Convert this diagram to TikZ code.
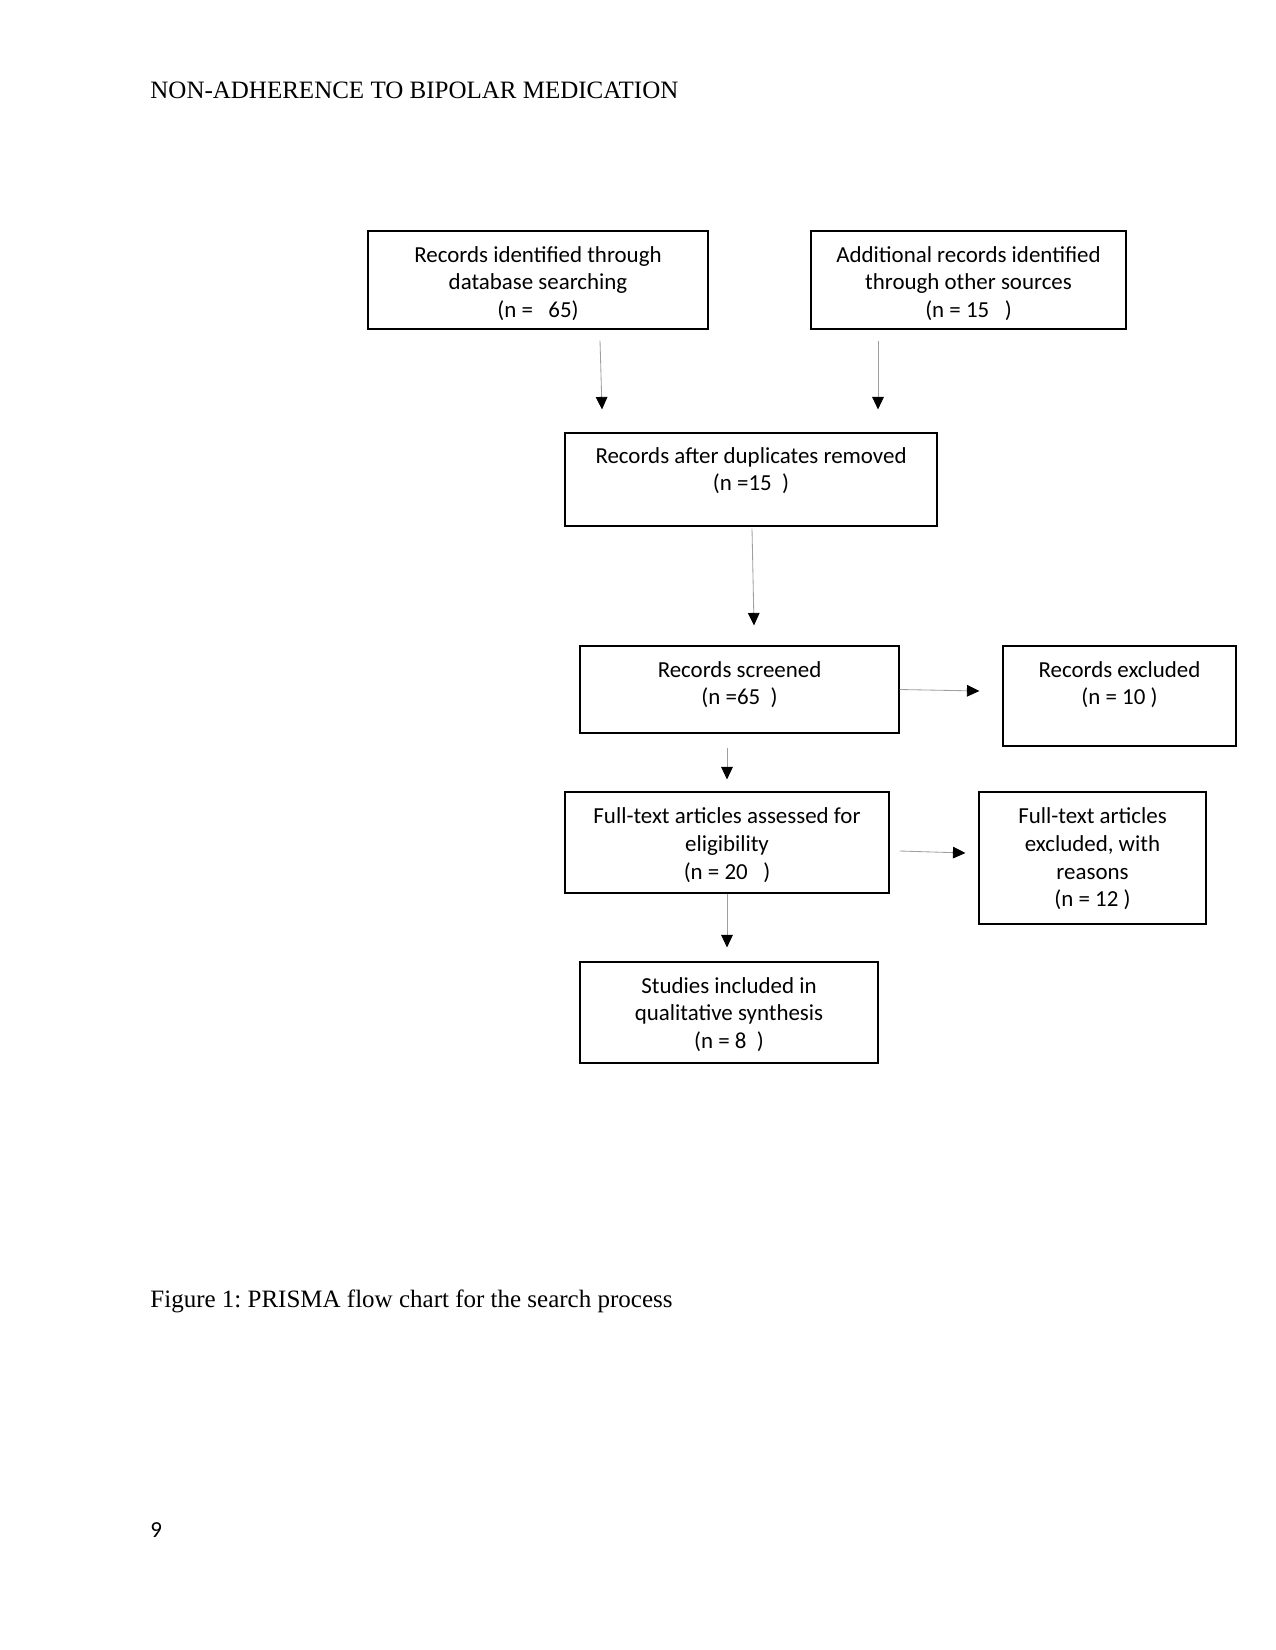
\documentclass[tikz,border=0pt]{standalone}
\usepackage{fontspec}
\setmainfont{Liberation Serif}
\newfontfamily\boxfont{Carlito}
\frenchspacing
\usetikzlibrary{arrows.meta,calc,fit}
\begin{document}
\begin{tikzpicture}[x=0.48pt,y=-0.48pt,
  box/.style={draw=black,line width=0.55pt,inner sep=0pt},
  txt/.style={align=center,inner sep=0pt,anchor=north,font=\boxfont\fontsize{11}{13.3}\selectfont},
  arr/.style={draw=gray!75,line width=0.4pt,-{Triangle[black,length=6pt,width=5.6pt]}}]
\path[use as bounding box,fill=white] (0,0) rectangle (1275,1650);
\node[anchor=base west,inner sep=0pt,font=\fontsize{12}{14}\selectfont] (hdr) at (150,99) {NON-ADHERENCE TO BIPOLAR MEDICATION};
\node[anchor=base west,inner sep=0pt,font=\fontsize{12}{14}\selectfont] (cap) at (150,1307) {Figure 1: PRISMA flow chart for the search process};
\node[anchor=base west,inner sep=0pt,font=\boxfont\fontsize{11}{13}\selectfont] (pg) at (150,1537) {9};

\node[box,fit={(368,231) (708,329)}] (b1) {};
\node[box,fit={(811,231) (1126,329)}] (b2) {};
\node[box,fit={(565,433) (937,526)}] (b3) {};
\node[box,fit={(580,646) (899,733)}] (b4) {};
\node[box,fit={(1003,646) (1236,746)}] (b5) {};
\node[box,fit={(565,792) (889,893)}] (b6) {};
\node[box,fit={(979,792) (1206,924)}] (b7) {};
\node[box,fit={(580,962) (878,1063)}] (b8) {};

\node[txt] (t1) at ($(b1.north)+(0,15.5)$) {Records identified through\\database searching\\(n = \ \ 65)};
\node[txt] (t2) at ($(b2.north)+(0,15.5)$) {Additional records identified\\through other sources\\(n = 15 \ \ )};
\node[txt] (t3) at ($(b3.north)+(0,14.5)$) {Records after duplicates removed\\(n =15 \ )};
\node[txt] (t4) at ($(b4.north)+(0,15.5)$) {Records screened\\(n =65 \ )};
\node[txt] (t5) at ($(b5.north)+(0,15.5)$) {Records excluded\\(n = 10 )};
\node[txt] (t6) at ($(b6.north)+(0,16)$) {Full-text articles assessed for\\eligibility\\(n = 20 \ \ )};
\node[txt] (t7) at ($(b7.north)+(0,16)$) {Full-text articles\\excluded, with\\reasons\\(n = 12 )};
\node[txt] (t8) at ($(b8.north)+(0,15.5)$) {Studies included in\\qualitative synthesis\\(n = 8 \ )};

\draw[arr] ($(b1.south)+(62,11)$) -- ($(b3.north)+(-149,-23)$);
\draw[arr] ($(b2.south)+(-90.5,11)$) -- ($(b3.north)+(127,-23)$);
\draw[arr] ($(b3.south)+(1,2)$) -- ($(b4.north)+(14.5,-20)$);
\draw[arr] ($(b4.east)+(0,0)$) -- ($(b5.west)+(-23,-5)$);
\draw[arr] ($(b4.south)+(-12.5,14)$) -- ($(b6.north)+(0,-12)$);
\draw[arr] ($(b6.east)+(10,8.5)$) -- ($(b7.west)+(-13,-5)$);
\draw[arr] ($(b6.south)+(0,0)$) -- ($(b8.north)+(-2,-14)$);
\end{tikzpicture}
\end{document}
